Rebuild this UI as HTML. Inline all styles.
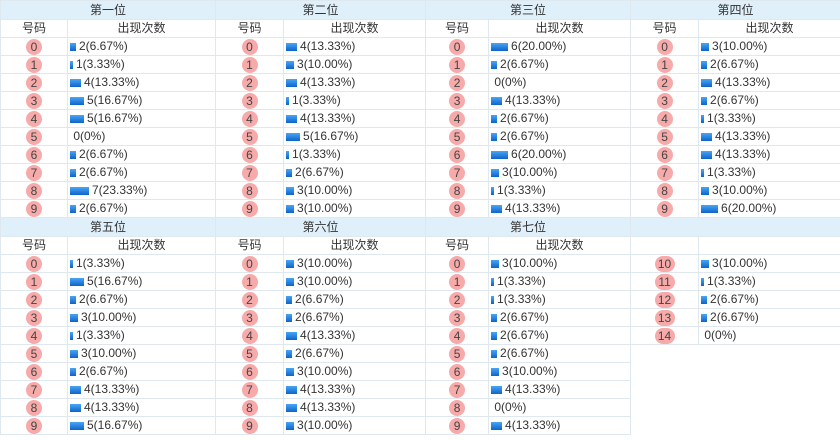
<!DOCTYPE html><html><head><meta charset="utf-8"><style>
body{margin:0;width:840px;height:440px;background:#fff;overflow:hidden;font-family:"Liberation Sans","Noto Sans CJK SC",sans-serif;font-size:12px;color:#333}
table{border-collapse:collapse;table-layout:fixed;width:840px}
td{height:17px;padding:0;border:1px solid #dfe7ef;white-space:nowrap;overflow:hidden;line-height:17px}
tr.h td{background:#dff0fb;text-align:center;color:#333;height:18px;line-height:18px}
tr.s td{text-align:center}
td.n{text-align:center}
td.n i{font-style:normal;display:inline-block;width:16px;height:16px;line-height:16px;border-radius:50%;background:#f6aaa9;font-size:12px;color:#444;vertical-align:middle}
td.n i.w{width:20px;border-radius:8px}
td.c{padding-left:2px}
td.c b{display:inline-block;height:8px;margin-right:3px;background:linear-gradient(#4aa6f2,#0c63cc);vertical-align:-1px}
td.e{border:none}
td.e2{border-top:none;border-bottom:none;border-right:none}
</style></head><body>
<table>
<colgroup><col style="width:67px"><col style="width:148px"><col style="width:68px"><col style="width:142px"><col style="width:63px"><col style="width:142px"><col style="width:68px"><col style="width:142px"></colgroup>
<tr class="h"><td colspan="2">第一位</td><td colspan="2">第二位</td><td colspan="2">第三位</td><td colspan="2">第四位</td></tr>
<tr class="s"><td>号码</td><td>出现次数</td><td>号码</td><td>出现次数</td><td>号码</td><td>出现次数</td><td>号码</td><td>出现次数</td></tr>
<tr><td class="n"><i>0</i></td><td class="c"><b style="width:6px"></b>2(6.67%)</td><td class="n"><i>0</i></td><td class="c"><b style="width:11px"></b>4(13.33%)</td><td class="n"><i>0</i></td><td class="c"><b style="width:17px"></b>6(20.00%)</td><td class="n"><i>0</i></td><td class="c"><b style="width:8px"></b>3(10.00%)</td></tr>
<tr><td class="n"><i>1</i></td><td class="c"><b style="width:3px"></b>1(3.33%)</td><td class="n"><i>1</i></td><td class="c"><b style="width:8px"></b>3(10.00%)</td><td class="n"><i>1</i></td><td class="c"><b style="width:6px"></b>2(6.67%)</td><td class="n"><i>1</i></td><td class="c"><b style="width:6px"></b>2(6.67%)</td></tr>
<tr><td class="n"><i>2</i></td><td class="c"><b style="width:11px"></b>4(13.33%)</td><td class="n"><i>2</i></td><td class="c"><b style="width:11px"></b>4(13.33%)</td><td class="n"><i>2</i></td><td class="c">&nbsp;0(0%)</td><td class="n"><i>2</i></td><td class="c"><b style="width:11px"></b>4(13.33%)</td></tr>
<tr><td class="n"><i>3</i></td><td class="c"><b style="width:14px"></b>5(16.67%)</td><td class="n"><i>3</i></td><td class="c"><b style="width:3px"></b>1(3.33%)</td><td class="n"><i>3</i></td><td class="c"><b style="width:11px"></b>4(13.33%)</td><td class="n"><i>3</i></td><td class="c"><b style="width:6px"></b>2(6.67%)</td></tr>
<tr><td class="n"><i>4</i></td><td class="c"><b style="width:14px"></b>5(16.67%)</td><td class="n"><i>4</i></td><td class="c"><b style="width:11px"></b>4(13.33%)</td><td class="n"><i>4</i></td><td class="c"><b style="width:6px"></b>2(6.67%)</td><td class="n"><i>4</i></td><td class="c"><b style="width:3px"></b>1(3.33%)</td></tr>
<tr><td class="n"><i>5</i></td><td class="c">&nbsp;0(0%)</td><td class="n"><i>5</i></td><td class="c"><b style="width:14px"></b>5(16.67%)</td><td class="n"><i>5</i></td><td class="c"><b style="width:6px"></b>2(6.67%)</td><td class="n"><i>5</i></td><td class="c"><b style="width:11px"></b>4(13.33%)</td></tr>
<tr><td class="n"><i>6</i></td><td class="c"><b style="width:6px"></b>2(6.67%)</td><td class="n"><i>6</i></td><td class="c"><b style="width:3px"></b>1(3.33%)</td><td class="n"><i>6</i></td><td class="c"><b style="width:17px"></b>6(20.00%)</td><td class="n"><i>6</i></td><td class="c"><b style="width:11px"></b>4(13.33%)</td></tr>
<tr><td class="n"><i>7</i></td><td class="c"><b style="width:6px"></b>2(6.67%)</td><td class="n"><i>7</i></td><td class="c"><b style="width:6px"></b>2(6.67%)</td><td class="n"><i>7</i></td><td class="c"><b style="width:8px"></b>3(10.00%)</td><td class="n"><i>7</i></td><td class="c"><b style="width:3px"></b>1(3.33%)</td></tr>
<tr><td class="n"><i>8</i></td><td class="c"><b style="width:19px"></b>7(23.33%)</td><td class="n"><i>8</i></td><td class="c"><b style="width:8px"></b>3(10.00%)</td><td class="n"><i>8</i></td><td class="c"><b style="width:3px"></b>1(3.33%)</td><td class="n"><i>8</i></td><td class="c"><b style="width:8px"></b>3(10.00%)</td></tr>
<tr><td class="n"><i>9</i></td><td class="c"><b style="width:6px"></b>2(6.67%)</td><td class="n"><i>9</i></td><td class="c"><b style="width:8px"></b>3(10.00%)</td><td class="n"><i>9</i></td><td class="c"><b style="width:11px"></b>4(13.33%)</td><td class="n"><i>9</i></td><td class="c"><b style="width:17px"></b>6(20.00%)</td></tr>
<tr class="h"><td colspan="2">第五位</td><td colspan="2">第六位</td><td colspan="2">第七位</td><td colspan="2"></td></tr>
<tr class="s"><td>号码</td><td>出现次数</td><td>号码</td><td>出现次数</td><td>号码</td><td>出现次数</td><td></td><td></td></tr>
<tr><td class="n"><i>0</i></td><td class="c"><b style="width:3px"></b>1(3.33%)</td><td class="n"><i>0</i></td><td class="c"><b style="width:8px"></b>3(10.00%)</td><td class="n"><i>0</i></td><td class="c"><b style="width:8px"></b>3(10.00%)</td><td class="n"><i class="w">10</i></td><td class="c"><b style="width:8px"></b>3(10.00%)</td></tr>
<tr><td class="n"><i>1</i></td><td class="c"><b style="width:14px"></b>5(16.67%)</td><td class="n"><i>1</i></td><td class="c"><b style="width:8px"></b>3(10.00%)</td><td class="n"><i>1</i></td><td class="c"><b style="width:3px"></b>1(3.33%)</td><td class="n"><i class="w">11</i></td><td class="c"><b style="width:3px"></b>1(3.33%)</td></tr>
<tr><td class="n"><i>2</i></td><td class="c"><b style="width:6px"></b>2(6.67%)</td><td class="n"><i>2</i></td><td class="c"><b style="width:6px"></b>2(6.67%)</td><td class="n"><i>2</i></td><td class="c"><b style="width:3px"></b>1(3.33%)</td><td class="n"><i class="w">12</i></td><td class="c"><b style="width:6px"></b>2(6.67%)</td></tr>
<tr><td class="n"><i>3</i></td><td class="c"><b style="width:8px"></b>3(10.00%)</td><td class="n"><i>3</i></td><td class="c"><b style="width:6px"></b>2(6.67%)</td><td class="n"><i>3</i></td><td class="c"><b style="width:6px"></b>2(6.67%)</td><td class="n"><i class="w">13</i></td><td class="c"><b style="width:6px"></b>2(6.67%)</td></tr>
<tr><td class="n"><i>4</i></td><td class="c"><b style="width:3px"></b>1(3.33%)</td><td class="n"><i>4</i></td><td class="c"><b style="width:11px"></b>4(13.33%)</td><td class="n"><i>4</i></td><td class="c"><b style="width:6px"></b>2(6.67%)</td><td class="n"><i class="w">14</i></td><td class="c">&nbsp;0(0%)</td></tr>
<tr><td class="n"><i>5</i></td><td class="c"><b style="width:8px"></b>3(10.00%)</td><td class="n"><i>5</i></td><td class="c"><b style="width:6px"></b>2(6.67%)</td><td class="n"><i>5</i></td><td class="c"><b style="width:6px"></b>2(6.67%)</td><td class="e2"></td><td class="e"></td></tr>
<tr><td class="n"><i>6</i></td><td class="c"><b style="width:6px"></b>2(6.67%)</td><td class="n"><i>6</i></td><td class="c"><b style="width:8px"></b>3(10.00%)</td><td class="n"><i>6</i></td><td class="c"><b style="width:8px"></b>3(10.00%)</td><td class="e2"></td><td class="e"></td></tr>
<tr><td class="n"><i>7</i></td><td class="c"><b style="width:11px"></b>4(13.33%)</td><td class="n"><i>7</i></td><td class="c"><b style="width:11px"></b>4(13.33%)</td><td class="n"><i>7</i></td><td class="c"><b style="width:11px"></b>4(13.33%)</td><td class="e2"></td><td class="e"></td></tr>
<tr><td class="n"><i>8</i></td><td class="c"><b style="width:11px"></b>4(13.33%)</td><td class="n"><i>8</i></td><td class="c"><b style="width:11px"></b>4(13.33%)</td><td class="n"><i>8</i></td><td class="c">&nbsp;0(0%)</td><td class="e2"></td><td class="e"></td></tr>
<tr><td class="n"><i>9</i></td><td class="c"><b style="width:14px"></b>5(16.67%)</td><td class="n"><i>9</i></td><td class="c"><b style="width:8px"></b>3(10.00%)</td><td class="n"><i>9</i></td><td class="c"><b style="width:11px"></b>4(13.33%)</td><td class="e2"></td><td class="e"></td></tr>
</table>
</body></html>
